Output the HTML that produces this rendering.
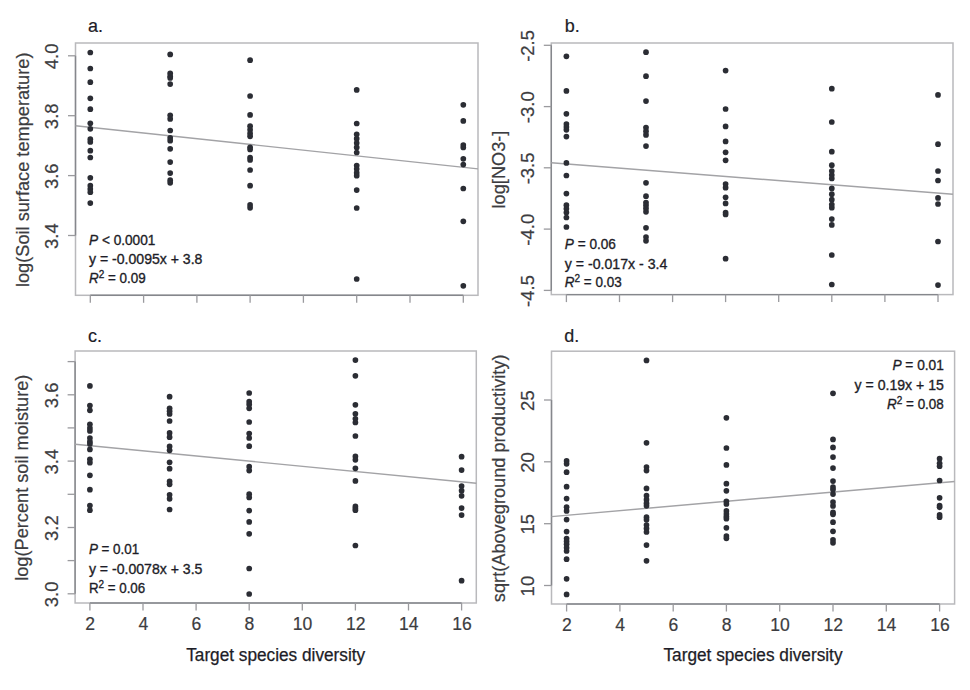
<!DOCTYPE html>
<html><head><meta charset="utf-8"><style>
html,body{margin:0;padding:0;background:#fff;width:970px;height:690px;overflow:hidden}
svg{display:block}
text{font-family:"Liberation Sans",sans-serif}
.tl{font-size:18.5px;fill:#3c3c40;stroke:#3c3c40;stroke-width:0.2px}
.yl{font-size:18.2px;fill:#3c3c40;stroke:#3c3c40;stroke-width:0.2px}
.an{font-size:14.8px;fill:#1d1d27;stroke:#1d1d27;stroke-width:0.35px}
.sup{font-size:11px}
.pl{font-size:18px;fill:#1d1d27;stroke:#1d1d27;stroke-width:0.2px}
.xt{font-size:17.5px;fill:#1d1d27;stroke:#1d1d27;stroke-width:0.25px}
circle{fill:#2b2d34}
</style></head><body>
<svg width="970" height="690" viewBox="0 0 970 690">
<rect width="970" height="690" fill="#fff"/>
<rect x="75.5" y="43" width="402.5" height="252.3" fill="none" stroke="#b9b9bc" stroke-width="1.5"/>
<line x1="90.3" y1="295.3" x2="463.3" y2="295.3" stroke="#85878c" stroke-width="1.4"/>
<line x1="90.3" y1="295.3" x2="90.3" y2="302.8" stroke="#9a9a9e" stroke-width="1.3"/>
<line x1="143.6" y1="295.3" x2="143.6" y2="302.8" stroke="#9a9a9e" stroke-width="1.3"/>
<line x1="196.9" y1="295.3" x2="196.9" y2="302.8" stroke="#9a9a9e" stroke-width="1.3"/>
<line x1="250.1" y1="295.3" x2="250.1" y2="302.8" stroke="#9a9a9e" stroke-width="1.3"/>
<line x1="303.4" y1="295.3" x2="303.4" y2="302.8" stroke="#9a9a9e" stroke-width="1.3"/>
<line x1="356.7" y1="295.3" x2="356.7" y2="302.8" stroke="#9a9a9e" stroke-width="1.3"/>
<line x1="410.0" y1="295.3" x2="410.0" y2="302.8" stroke="#9a9a9e" stroke-width="1.3"/>
<line x1="463.3" y1="295.3" x2="463.3" y2="302.8" stroke="#9a9a9e" stroke-width="1.3"/>
<line x1="75.5" y1="55.8" x2="75.5" y2="235.5" stroke="#85878c" stroke-width="1.4"/>
<line x1="68.0" y1="55.8" x2="75.5" y2="55.8" stroke="#9a9a9e" stroke-width="1.3"/>
<text transform="translate(58.3,56.4) rotate(-90)" text-anchor="middle" class="tl">4.0</text>
<line x1="68.0" y1="115.7" x2="75.5" y2="115.7" stroke="#9a9a9e" stroke-width="1.3"/>
<text transform="translate(58.3,116.3) rotate(-90)" text-anchor="middle" class="tl">3.8</text>
<line x1="68.0" y1="175.6" x2="75.5" y2="175.6" stroke="#9a9a9e" stroke-width="1.3"/>
<text transform="translate(58.3,176.2) rotate(-90)" text-anchor="middle" class="tl">3.6</text>
<line x1="68.0" y1="235.5" x2="75.5" y2="235.5" stroke="#9a9a9e" stroke-width="1.3"/>
<text transform="translate(58.3,236.1) rotate(-90)" text-anchor="middle" class="tl">3.4</text>
<text transform="translate(28.5,169.8) rotate(-90)" text-anchor="middle" class="yl">log(Soil surface temperature)</text>
<line x1="75.5" y1="125.7" x2="478" y2="168.9" stroke="#a3a3a6" stroke-width="1.45"/>
<circle cx="90.3" cy="52.5" r="2.85"/>
<circle cx="90.3" cy="68.5" r="2.85"/>
<circle cx="90.3" cy="82.2" r="2.85"/>
<circle cx="90.3" cy="98.3" r="2.85"/>
<circle cx="90.3" cy="109.2" r="2.85"/>
<circle cx="90.3" cy="123.3" r="2.85"/>
<circle cx="90.3" cy="128.8" r="2.85"/>
<circle cx="90.3" cy="139.2" r="2.85"/>
<circle cx="90.3" cy="142" r="2.85"/>
<circle cx="90.3" cy="150.7" r="2.85"/>
<circle cx="90.3" cy="157.5" r="2.85"/>
<circle cx="90.3" cy="177.8" r="2.85"/>
<circle cx="90.3" cy="185.7" r="2.85"/>
<circle cx="90.3" cy="189" r="2.85"/>
<circle cx="90.3" cy="192.2" r="2.85"/>
<circle cx="90.3" cy="203.1" r="2.85"/>
<circle cx="170.2" cy="54.4" r="2.85"/>
<circle cx="170.2" cy="73.3" r="2.85"/>
<circle cx="170.2" cy="76.2" r="2.85"/>
<circle cx="170.2" cy="78" r="2.85"/>
<circle cx="170.2" cy="84.1" r="2.85"/>
<circle cx="170.2" cy="115.3" r="2.85"/>
<circle cx="170.2" cy="118.9" r="2.85"/>
<circle cx="170.2" cy="130.5" r="2.85"/>
<circle cx="170.2" cy="137.8" r="2.85"/>
<circle cx="170.2" cy="140.7" r="2.85"/>
<circle cx="170.2" cy="148.8" r="2.85"/>
<circle cx="170.2" cy="162.1" r="2.85"/>
<circle cx="170.2" cy="173.1" r="2.85"/>
<circle cx="170.2" cy="180.2" r="2.85"/>
<circle cx="170.2" cy="182.8" r="2.85"/>
<circle cx="250.1" cy="60.2" r="2.85"/>
<circle cx="250.1" cy="96" r="2.85"/>
<circle cx="250.1" cy="114.9" r="2.85"/>
<circle cx="250.1" cy="126.2" r="2.85"/>
<circle cx="250.1" cy="129.8" r="2.85"/>
<circle cx="250.1" cy="133.4" r="2.85"/>
<circle cx="250.1" cy="136.3" r="2.85"/>
<circle cx="250.1" cy="147.3" r="2.85"/>
<circle cx="250.1" cy="149.5" r="2.85"/>
<circle cx="250.1" cy="157.5" r="2.85"/>
<circle cx="250.1" cy="159.9" r="2.85"/>
<circle cx="250.1" cy="170" r="2.85"/>
<circle cx="250.1" cy="185.7" r="2.85"/>
<circle cx="250.1" cy="204.9" r="2.85"/>
<circle cx="250.1" cy="207.8" r="2.85"/>
<circle cx="356.7" cy="89.9" r="2.85"/>
<circle cx="356.7" cy="123.5" r="2.85"/>
<circle cx="356.7" cy="134.3" r="2.85"/>
<circle cx="356.7" cy="138.7" r="2.85"/>
<circle cx="356.7" cy="143" r="2.85"/>
<circle cx="356.7" cy="147.4" r="2.85"/>
<circle cx="356.7" cy="152.5" r="2.85"/>
<circle cx="356.7" cy="165.5" r="2.85"/>
<circle cx="356.7" cy="169.1" r="2.85"/>
<circle cx="356.7" cy="172.8" r="2.85"/>
<circle cx="356.7" cy="175.7" r="2.85"/>
<circle cx="356.7" cy="190.1" r="2.85"/>
<circle cx="356.7" cy="208" r="2.85"/>
<circle cx="356.7" cy="279" r="2.85"/>
<circle cx="463.3" cy="104.8" r="2.85"/>
<circle cx="463.3" cy="120.9" r="2.85"/>
<circle cx="463.3" cy="145" r="2.85"/>
<circle cx="463.3" cy="147.5" r="2.85"/>
<circle cx="463.3" cy="158.8" r="2.85"/>
<circle cx="463.3" cy="164.6" r="2.85"/>
<circle cx="463.3" cy="188.5" r="2.85"/>
<circle cx="463.3" cy="221.3" r="2.85"/>
<circle cx="463.3" cy="285.8" r="2.85"/>
<text x="88.0" y="32" class="pl">a.</text>
<rect x="551.3" y="43" width="401.7" height="251.6" fill="none" stroke="#b9b9bc" stroke-width="1.5"/>
<line x1="566.4" y1="294.6" x2="938.0" y2="294.6" stroke="#85878c" stroke-width="1.4"/>
<line x1="566.4" y1="294.6" x2="566.4" y2="302.1" stroke="#9a9a9e" stroke-width="1.3"/>
<line x1="619.5" y1="294.6" x2="619.5" y2="302.1" stroke="#9a9a9e" stroke-width="1.3"/>
<line x1="672.6" y1="294.6" x2="672.6" y2="302.1" stroke="#9a9a9e" stroke-width="1.3"/>
<line x1="725.6" y1="294.6" x2="725.6" y2="302.1" stroke="#9a9a9e" stroke-width="1.3"/>
<line x1="778.7" y1="294.6" x2="778.7" y2="302.1" stroke="#9a9a9e" stroke-width="1.3"/>
<line x1="831.8" y1="294.6" x2="831.8" y2="302.1" stroke="#9a9a9e" stroke-width="1.3"/>
<line x1="884.9" y1="294.6" x2="884.9" y2="302.1" stroke="#9a9a9e" stroke-width="1.3"/>
<line x1="938.0" y1="294.6" x2="938.0" y2="302.1" stroke="#9a9a9e" stroke-width="1.3"/>
<line x1="551.3" y1="45.3" x2="551.3" y2="290.4" stroke="#85878c" stroke-width="1.4"/>
<line x1="543.8" y1="45.3" x2="551.3" y2="45.3" stroke="#9a9a9e" stroke-width="1.3"/>
<text transform="translate(534.1,45.9) rotate(-90)" text-anchor="middle" class="tl">-2.5</text>
<line x1="543.8" y1="106.6" x2="551.3" y2="106.6" stroke="#9a9a9e" stroke-width="1.3"/>
<text transform="translate(534.1,107.2) rotate(-90)" text-anchor="middle" class="tl">-3.0</text>
<line x1="543.8" y1="167.8" x2="551.3" y2="167.8" stroke="#9a9a9e" stroke-width="1.3"/>
<text transform="translate(534.1,168.4) rotate(-90)" text-anchor="middle" class="tl">-3.5</text>
<line x1="543.8" y1="229.1" x2="551.3" y2="229.1" stroke="#9a9a9e" stroke-width="1.3"/>
<text transform="translate(534.1,229.7) rotate(-90)" text-anchor="middle" class="tl">-4.0</text>
<line x1="543.8" y1="290.4" x2="551.3" y2="290.4" stroke="#9a9a9e" stroke-width="1.3"/>
<text transform="translate(534.1,291.0) rotate(-90)" text-anchor="middle" class="tl">-4.5</text>
<text transform="translate(505.3,169.5) rotate(-90)" text-anchor="middle" class="yl">log[NO3-]</text>
<line x1="551.3" y1="162.7" x2="953" y2="194.3" stroke="#a3a3a6" stroke-width="1.45"/>
<circle cx="566.4" cy="56.3" r="2.85"/>
<circle cx="566.4" cy="90.9" r="2.85"/>
<circle cx="566.4" cy="113.8" r="2.85"/>
<circle cx="566.4" cy="124" r="2.85"/>
<circle cx="566.4" cy="126.9" r="2.85"/>
<circle cx="566.4" cy="129.8" r="2.85"/>
<circle cx="566.4" cy="136.6" r="2.85"/>
<circle cx="566.4" cy="162.9" r="2.85"/>
<circle cx="566.4" cy="175.5" r="2.85"/>
<circle cx="566.4" cy="193.6" r="2.85"/>
<circle cx="566.4" cy="205.2" r="2.85"/>
<circle cx="566.4" cy="208.8" r="2.85"/>
<circle cx="566.4" cy="212.5" r="2.85"/>
<circle cx="566.4" cy="217.5" r="2.85"/>
<circle cx="566.4" cy="227" r="2.85"/>
<circle cx="646.0" cy="52.2" r="2.85"/>
<circle cx="646.0" cy="76.2" r="2.85"/>
<circle cx="646.0" cy="101.1" r="2.85"/>
<circle cx="646.0" cy="127.6" r="2.85"/>
<circle cx="646.0" cy="131.2" r="2.85"/>
<circle cx="646.0" cy="134.9" r="2.85"/>
<circle cx="646.0" cy="146.1" r="2.85"/>
<circle cx="646.0" cy="182.8" r="2.85"/>
<circle cx="646.0" cy="196.2" r="2.85"/>
<circle cx="646.0" cy="202.6" r="2.85"/>
<circle cx="646.0" cy="205.4" r="2.85"/>
<circle cx="646.0" cy="208.6" r="2.85"/>
<circle cx="646.0" cy="211.8" r="2.85"/>
<circle cx="646.0" cy="227.8" r="2.85"/>
<circle cx="646.0" cy="237" r="2.85"/>
<circle cx="646.0" cy="240.8" r="2.85"/>
<circle cx="725.6" cy="70.6" r="2.85"/>
<circle cx="725.6" cy="109" r="2.85"/>
<circle cx="725.6" cy="126.4" r="2.85"/>
<circle cx="725.6" cy="141.4" r="2.85"/>
<circle cx="725.6" cy="152.3" r="2.85"/>
<circle cx="725.6" cy="160.3" r="2.85"/>
<circle cx="725.6" cy="184" r="2.85"/>
<circle cx="725.6" cy="187.7" r="2.85"/>
<circle cx="725.6" cy="197.3" r="2.85"/>
<circle cx="725.6" cy="203.4" r="2.85"/>
<circle cx="725.6" cy="212.5" r="2.85"/>
<circle cx="725.6" cy="214.5" r="2.85"/>
<circle cx="725.6" cy="258.7" r="2.85"/>
<circle cx="831.8" cy="88.7" r="2.85"/>
<circle cx="831.8" cy="122" r="2.85"/>
<circle cx="831.8" cy="151.7" r="2.85"/>
<circle cx="831.8" cy="165.2" r="2.85"/>
<circle cx="831.8" cy="171" r="2.85"/>
<circle cx="831.8" cy="175.1" r="2.85"/>
<circle cx="831.8" cy="178.5" r="2.85"/>
<circle cx="831.8" cy="188.4" r="2.85"/>
<circle cx="831.8" cy="194.2" r="2.85"/>
<circle cx="831.8" cy="199.7" r="2.85"/>
<circle cx="831.8" cy="204.6" r="2.85"/>
<circle cx="831.8" cy="207.7" r="2.85"/>
<circle cx="831.8" cy="219.1" r="2.85"/>
<circle cx="831.8" cy="224.9" r="2.85"/>
<circle cx="831.8" cy="255" r="2.85"/>
<circle cx="831.8" cy="284.5" r="2.85"/>
<circle cx="938.0" cy="94.9" r="2.85"/>
<circle cx="938.0" cy="144.2" r="2.85"/>
<circle cx="938.0" cy="171" r="2.85"/>
<circle cx="938.0" cy="180.5" r="2.85"/>
<circle cx="938.0" cy="197.9" r="2.85"/>
<circle cx="938.0" cy="204" r="2.85"/>
<circle cx="938.0" cy="241.5" r="2.85"/>
<circle cx="938.0" cy="285.1" r="2.85"/>
<text x="564.7" y="31.7" class="pl">b.</text>
<rect x="75.1" y="351" width="401.2" height="252.0" fill="none" stroke="#b9b9bc" stroke-width="1.5"/>
<line x1="89.9" y1="603" x2="461.6" y2="603" stroke="#85878c" stroke-width="1.4"/>
<line x1="89.9" y1="603" x2="89.9" y2="610.5" stroke="#9a9a9e" stroke-width="1.3"/>
<text transform="translate(90.2,629.5) scale(0.95,1.03)" text-anchor="middle" class="tl">2</text>
<line x1="143.0" y1="603" x2="143.0" y2="610.5" stroke="#9a9a9e" stroke-width="1.3"/>
<text transform="translate(143.3,629.5) scale(0.95,1.03)" text-anchor="middle" class="tl">4</text>
<line x1="196.1" y1="603" x2="196.1" y2="610.5" stroke="#9a9a9e" stroke-width="1.3"/>
<text transform="translate(196.4,629.5) scale(0.95,1.03)" text-anchor="middle" class="tl">6</text>
<line x1="249.2" y1="603" x2="249.2" y2="610.5" stroke="#9a9a9e" stroke-width="1.3"/>
<text transform="translate(249.5,629.5) scale(0.95,1.03)" text-anchor="middle" class="tl">8</text>
<line x1="302.3" y1="603" x2="302.3" y2="610.5" stroke="#9a9a9e" stroke-width="1.3"/>
<text transform="translate(302.6,629.5) scale(0.95,1.03)" text-anchor="middle" class="tl">10</text>
<line x1="355.4" y1="603" x2="355.4" y2="610.5" stroke="#9a9a9e" stroke-width="1.3"/>
<text transform="translate(355.7,629.5) scale(0.95,1.03)" text-anchor="middle" class="tl">12</text>
<line x1="408.5" y1="603" x2="408.5" y2="610.5" stroke="#9a9a9e" stroke-width="1.3"/>
<text transform="translate(408.8,629.5) scale(0.95,1.03)" text-anchor="middle" class="tl">14</text>
<line x1="461.6" y1="603" x2="461.6" y2="610.5" stroke="#9a9a9e" stroke-width="1.3"/>
<text transform="translate(461.9,629.5) scale(0.95,1.03)" text-anchor="middle" class="tl">16</text>
<line x1="75.1" y1="361.6" x2="75.1" y2="593.8" stroke="#85878c" stroke-width="1.4"/>
<line x1="67.6" y1="593.8" x2="75.1" y2="593.8" stroke="#9a9a9e" stroke-width="1.3"/>
<text transform="translate(57.9,594.4) rotate(-90)" text-anchor="middle" class="tl">3.0</text>
<line x1="67.6" y1="560.6" x2="75.1" y2="560.6" stroke="#9a9a9e" stroke-width="1.3"/>
<line x1="67.6" y1="527.5" x2="75.1" y2="527.5" stroke="#9a9a9e" stroke-width="1.3"/>
<text transform="translate(57.9,528.1) rotate(-90)" text-anchor="middle" class="tl">3.2</text>
<line x1="67.6" y1="494.3" x2="75.1" y2="494.3" stroke="#9a9a9e" stroke-width="1.3"/>
<line x1="67.6" y1="461.1" x2="75.1" y2="461.1" stroke="#9a9a9e" stroke-width="1.3"/>
<text transform="translate(57.9,461.7) rotate(-90)" text-anchor="middle" class="tl">3.4</text>
<line x1="67.6" y1="427.9" x2="75.1" y2="427.9" stroke="#9a9a9e" stroke-width="1.3"/>
<line x1="67.6" y1="394.8" x2="75.1" y2="394.8" stroke="#9a9a9e" stroke-width="1.3"/>
<text transform="translate(57.9,395.4) rotate(-90)" text-anchor="middle" class="tl">3.6</text>
<line x1="67.6" y1="361.6" x2="75.1" y2="361.6" stroke="#9a9a9e" stroke-width="1.3"/>
<text transform="translate(28.1,477.7) rotate(-90)" text-anchor="middle" class="yl">log(Percent soil moisture)</text>
<line x1="75.1" y1="444.3" x2="476.3" y2="483.2" stroke="#a3a3a6" stroke-width="1.45"/>
<circle cx="89.9" cy="385.9" r="2.85"/>
<circle cx="89.9" cy="405.5" r="2.85"/>
<circle cx="89.9" cy="410.3" r="2.85"/>
<circle cx="89.9" cy="424.3" r="2.85"/>
<circle cx="89.9" cy="428" r="2.85"/>
<circle cx="89.9" cy="430.9" r="2.85"/>
<circle cx="89.9" cy="438.1" r="2.85"/>
<circle cx="89.9" cy="441.7" r="2.85"/>
<circle cx="89.9" cy="443.9" r="2.85"/>
<circle cx="89.9" cy="449.4" r="2.85"/>
<circle cx="89.9" cy="459.3" r="2.85"/>
<circle cx="89.9" cy="462.7" r="2.85"/>
<circle cx="89.9" cy="475.3" r="2.85"/>
<circle cx="89.9" cy="489.7" r="2.85"/>
<circle cx="89.9" cy="505.6" r="2.85"/>
<circle cx="89.9" cy="510.2" r="2.85"/>
<circle cx="169.6" cy="396.7" r="2.85"/>
<circle cx="169.6" cy="408.3" r="2.85"/>
<circle cx="169.6" cy="411.2" r="2.85"/>
<circle cx="169.6" cy="414" r="2.85"/>
<circle cx="169.6" cy="421" r="2.85"/>
<circle cx="169.6" cy="432.9" r="2.85"/>
<circle cx="169.6" cy="437.2" r="2.85"/>
<circle cx="169.6" cy="446.4" r="2.85"/>
<circle cx="169.6" cy="450.3" r="2.85"/>
<circle cx="169.6" cy="462.3" r="2.85"/>
<circle cx="169.6" cy="468.7" r="2.85"/>
<circle cx="169.6" cy="481.4" r="2.85"/>
<circle cx="169.6" cy="484.3" r="2.85"/>
<circle cx="169.6" cy="494.75" r="2.85"/>
<circle cx="169.6" cy="498.8" r="2.85"/>
<circle cx="169.6" cy="509.5" r="2.85"/>
<circle cx="249.2" cy="393" r="2.85"/>
<circle cx="249.2" cy="401.7" r="2.85"/>
<circle cx="249.2" cy="404.6" r="2.85"/>
<circle cx="249.2" cy="408.3" r="2.85"/>
<circle cx="249.2" cy="422" r="2.85"/>
<circle cx="249.2" cy="433.6" r="2.85"/>
<circle cx="249.2" cy="438" r="2.85"/>
<circle cx="249.2" cy="446.2" r="2.85"/>
<circle cx="249.2" cy="466.7" r="2.85"/>
<circle cx="249.2" cy="470.6" r="2.85"/>
<circle cx="249.2" cy="494.2" r="2.85"/>
<circle cx="249.2" cy="497.5" r="2.85"/>
<circle cx="249.2" cy="510.6" r="2.85"/>
<circle cx="249.2" cy="521.9" r="2.85"/>
<circle cx="249.2" cy="533.8" r="2.85"/>
<circle cx="249.2" cy="568.5" r="2.85"/>
<circle cx="249.2" cy="594" r="2.85"/>
<circle cx="355.4" cy="360.1" r="2.85"/>
<circle cx="355.4" cy="375.8" r="2.85"/>
<circle cx="355.4" cy="404.8" r="2.85"/>
<circle cx="355.4" cy="413.8" r="2.85"/>
<circle cx="355.4" cy="418.8" r="2.85"/>
<circle cx="355.4" cy="422.5" r="2.85"/>
<circle cx="355.4" cy="436" r="2.85"/>
<circle cx="355.4" cy="456.4" r="2.85"/>
<circle cx="355.4" cy="459.8" r="2.85"/>
<circle cx="355.4" cy="468.3" r="2.85"/>
<circle cx="355.4" cy="480.9" r="2.85"/>
<circle cx="355.4" cy="506.4" r="2.85"/>
<circle cx="355.4" cy="508.5" r="2.85"/>
<circle cx="355.4" cy="510.2" r="2.85"/>
<circle cx="355.4" cy="545.5" r="2.85"/>
<circle cx="461.6" cy="456.7" r="2.85"/>
<circle cx="461.6" cy="470.1" r="2.85"/>
<circle cx="461.6" cy="486.1" r="2.85"/>
<circle cx="461.6" cy="490.7" r="2.85"/>
<circle cx="461.6" cy="495.8" r="2.85"/>
<circle cx="461.6" cy="508.1" r="2.85"/>
<circle cx="461.6" cy="515.1" r="2.85"/>
<circle cx="461.6" cy="580.65" r="2.85"/>
<text x="88.0" y="341.7" class="pl">c.</text>
<text x="275.7" y="660.9" text-anchor="middle" class="xt" textLength="179" lengthAdjust="spacingAndGlyphs">Target species diversity</text>
<rect x="551.5" y="351.2" width="403.1" height="252.8" fill="none" stroke="#b9b9bc" stroke-width="1.5"/>
<line x1="566.6" y1="604" x2="939.6" y2="604" stroke="#85878c" stroke-width="1.4"/>
<line x1="566.6" y1="604" x2="566.6" y2="611.5" stroke="#9a9a9e" stroke-width="1.3"/>
<text transform="translate(566.9,630.5) scale(0.95,1.03)" text-anchor="middle" class="tl">2</text>
<line x1="619.9" y1="604" x2="619.9" y2="611.5" stroke="#9a9a9e" stroke-width="1.3"/>
<text transform="translate(620.2,630.5) scale(0.95,1.03)" text-anchor="middle" class="tl">4</text>
<line x1="673.2" y1="604" x2="673.2" y2="611.5" stroke="#9a9a9e" stroke-width="1.3"/>
<text transform="translate(673.5,630.5) scale(0.95,1.03)" text-anchor="middle" class="tl">6</text>
<line x1="726.4" y1="604" x2="726.4" y2="611.5" stroke="#9a9a9e" stroke-width="1.3"/>
<text transform="translate(726.7,630.5) scale(0.95,1.03)" text-anchor="middle" class="tl">8</text>
<line x1="779.7" y1="604" x2="779.7" y2="611.5" stroke="#9a9a9e" stroke-width="1.3"/>
<text transform="translate(780.0,630.5) scale(0.95,1.03)" text-anchor="middle" class="tl">10</text>
<line x1="833.0" y1="604" x2="833.0" y2="611.5" stroke="#9a9a9e" stroke-width="1.3"/>
<text transform="translate(833.3,630.5) scale(0.95,1.03)" text-anchor="middle" class="tl">12</text>
<line x1="886.3" y1="604" x2="886.3" y2="611.5" stroke="#9a9a9e" stroke-width="1.3"/>
<text transform="translate(886.6,630.5) scale(0.95,1.03)" text-anchor="middle" class="tl">14</text>
<line x1="939.6" y1="604" x2="939.6" y2="611.5" stroke="#9a9a9e" stroke-width="1.3"/>
<text transform="translate(939.9,630.5) scale(0.95,1.03)" text-anchor="middle" class="tl">16</text>
<line x1="551.5" y1="400.0" x2="551.5" y2="585.5" stroke="#85878c" stroke-width="1.4"/>
<line x1="544.0" y1="585.5" x2="551.5" y2="585.5" stroke="#9a9a9e" stroke-width="1.3"/>
<text transform="translate(534.3,586.1) rotate(-90)" text-anchor="middle" class="tl">10</text>
<line x1="544.0" y1="523.7" x2="551.5" y2="523.7" stroke="#9a9a9e" stroke-width="1.3"/>
<text transform="translate(534.3,524.3) rotate(-90)" text-anchor="middle" class="tl">15</text>
<line x1="544.0" y1="461.8" x2="551.5" y2="461.8" stroke="#9a9a9e" stroke-width="1.3"/>
<text transform="translate(534.3,462.4) rotate(-90)" text-anchor="middle" class="tl">20</text>
<line x1="544.0" y1="400.0" x2="551.5" y2="400.0" stroke="#9a9a9e" stroke-width="1.3"/>
<text transform="translate(534.3,400.6) rotate(-90)" text-anchor="middle" class="tl">25</text>
<text transform="translate(504.5,478.3) rotate(-90)" text-anchor="middle" class="yl">sqrt(Aboveground productivity)</text>
<line x1="551.5" y1="516.6" x2="954.6" y2="481.5" stroke="#a3a3a6" stroke-width="1.45"/>
<circle cx="566.6" cy="460.9" r="2.85"/>
<circle cx="566.6" cy="463.8" r="2.85"/>
<circle cx="566.6" cy="472.2" r="2.85"/>
<circle cx="566.6" cy="486.7" r="2.85"/>
<circle cx="566.6" cy="498.6" r="2.85"/>
<circle cx="566.6" cy="507.2" r="2.85"/>
<circle cx="566.6" cy="510.9" r="2.85"/>
<circle cx="566.6" cy="519.6" r="2.85"/>
<circle cx="566.6" cy="531.6" r="2.85"/>
<circle cx="566.6" cy="538.5" r="2.85"/>
<circle cx="566.6" cy="541.4" r="2.85"/>
<circle cx="566.6" cy="544.3" r="2.85"/>
<circle cx="566.6" cy="547.8" r="2.85"/>
<circle cx="566.6" cy="551" r="2.85"/>
<circle cx="566.6" cy="559.2" r="2.85"/>
<circle cx="566.6" cy="578.8" r="2.85"/>
<circle cx="566.6" cy="594.4" r="2.85"/>
<circle cx="646.5" cy="360.4" r="2.85"/>
<circle cx="646.5" cy="442.8" r="2.85"/>
<circle cx="646.5" cy="467.1" r="2.85"/>
<circle cx="646.5" cy="470.6" r="2.85"/>
<circle cx="646.5" cy="488.4" r="2.85"/>
<circle cx="646.5" cy="495.7" r="2.85"/>
<circle cx="646.5" cy="499.7" r="2.85"/>
<circle cx="646.5" cy="503.2" r="2.85"/>
<circle cx="646.5" cy="505.8" r="2.85"/>
<circle cx="646.5" cy="517.2" r="2.85"/>
<circle cx="646.5" cy="519.8" r="2.85"/>
<circle cx="646.5" cy="525" r="2.85"/>
<circle cx="646.5" cy="528.5" r="2.85"/>
<circle cx="646.5" cy="532" r="2.85"/>
<circle cx="646.5" cy="545.1" r="2.85"/>
<circle cx="646.5" cy="560.8" r="2.85"/>
<circle cx="726.4" cy="417.8" r="2.85"/>
<circle cx="726.4" cy="448" r="2.85"/>
<circle cx="726.4" cy="464.9" r="2.85"/>
<circle cx="726.4" cy="483.7" r="2.85"/>
<circle cx="726.4" cy="490.8" r="2.85"/>
<circle cx="726.4" cy="501.3" r="2.85"/>
<circle cx="726.4" cy="503.9" r="2.85"/>
<circle cx="726.4" cy="510.9" r="2.85"/>
<circle cx="726.4" cy="513.9" r="2.85"/>
<circle cx="726.4" cy="516.5" r="2.85"/>
<circle cx="726.4" cy="518.7" r="2.85"/>
<circle cx="726.4" cy="527.8" r="2.85"/>
<circle cx="726.4" cy="536.1" r="2.85"/>
<circle cx="726.4" cy="538.3" r="2.85"/>
<circle cx="833.0" cy="393.3" r="2.85"/>
<circle cx="833.0" cy="439.4" r="2.85"/>
<circle cx="833.0" cy="447.4" r="2.85"/>
<circle cx="833.0" cy="457.1" r="2.85"/>
<circle cx="833.0" cy="468.1" r="2.85"/>
<circle cx="833.0" cy="481.1" r="2.85"/>
<circle cx="833.0" cy="487" r="2.85"/>
<circle cx="833.0" cy="489.6" r="2.85"/>
<circle cx="833.0" cy="494.1" r="2.85"/>
<circle cx="833.0" cy="502" r="2.85"/>
<circle cx="833.0" cy="505.9" r="2.85"/>
<circle cx="833.0" cy="512.4" r="2.85"/>
<circle cx="833.0" cy="514.3" r="2.85"/>
<circle cx="833.0" cy="522.2" r="2.85"/>
<circle cx="833.0" cy="531.3" r="2.85"/>
<circle cx="833.0" cy="539.8" r="2.85"/>
<circle cx="833.0" cy="542.8" r="2.85"/>
<circle cx="939.6" cy="458.7" r="2.85"/>
<circle cx="939.6" cy="463.3" r="2.85"/>
<circle cx="939.6" cy="466.2" r="2.85"/>
<circle cx="939.6" cy="480.5" r="2.85"/>
<circle cx="939.6" cy="497.8" r="2.85"/>
<circle cx="939.6" cy="505.6" r="2.85"/>
<circle cx="939.6" cy="507.3" r="2.85"/>
<circle cx="939.6" cy="514.9" r="2.85"/>
<circle cx="939.6" cy="517.2" r="2.85"/>
<text x="564.3" y="341.7" class="pl">d.</text>
<text x="753.0" y="660.9" text-anchor="middle" class="xt" textLength="179" lengthAdjust="spacingAndGlyphs">Target species diversity</text>
<text x="89" y="244.5" text-anchor="start" class="an" textLength="66.4" lengthAdjust="spacingAndGlyphs"><tspan font-style="italic">P</tspan> &lt; 0.0001</text>
<text x="89" y="263.7" text-anchor="start" class="an" textLength="113.4" lengthAdjust="spacingAndGlyphs">y = -0.0095x + 3.8</text>
<text x="89" y="283.2" text-anchor="start" class="an" textLength="56.7" lengthAdjust="spacingAndGlyphs"><tspan font-style="italic">R</tspan><tspan class="sup" dy="-5">2</tspan><tspan dy="5"> = 0.09</tspan></text>
<text x="564.8" y="248.6" text-anchor="start" class="an" textLength="51.1" lengthAdjust="spacingAndGlyphs"><tspan font-style="italic">P</tspan> = 0.06</text>
<text x="564.8" y="268.5" text-anchor="start" class="an" textLength="102.5" lengthAdjust="spacingAndGlyphs">y = -0.017x - 3.4</text>
<text x="564.8" y="287.3" text-anchor="start" class="an" textLength="56.9" lengthAdjust="spacingAndGlyphs"><tspan font-style="italic">R</tspan><tspan class="sup" dy="-5">2</tspan><tspan dy="5"> = 0.03</tspan></text>
<text x="88.9" y="554.3" text-anchor="start" class="an" textLength="50.3" lengthAdjust="spacingAndGlyphs"><tspan font-style="italic">P</tspan> = 0.01</text>
<text x="88.9" y="573.8" text-anchor="start" class="an" textLength="113.5" lengthAdjust="spacingAndGlyphs">y = -0.0078x + 3.5</text>
<text x="88.9" y="592.8" text-anchor="start" class="an" textLength="56.3" lengthAdjust="spacingAndGlyphs">R<tspan class="sup" dy="-5">2</tspan><tspan dy="5"> = 0.06</tspan></text>
<text x="943.8" y="370.0" text-anchor="end" class="an" textLength="51.4" lengthAdjust="spacingAndGlyphs"><tspan font-style="italic">P</tspan> = 0.01</text>
<text x="943.8" y="389.5" text-anchor="end" class="an" textLength="89.2" lengthAdjust="spacingAndGlyphs">y = 0.19x + 15</text>
<text x="943.8" y="408.5" text-anchor="end" class="an" textLength="56.7" lengthAdjust="spacingAndGlyphs"><tspan font-style="italic">R</tspan><tspan class="sup" dy="-5">2</tspan><tspan dy="5"> = 0.08</tspan></text>
</svg>
</body></html>
